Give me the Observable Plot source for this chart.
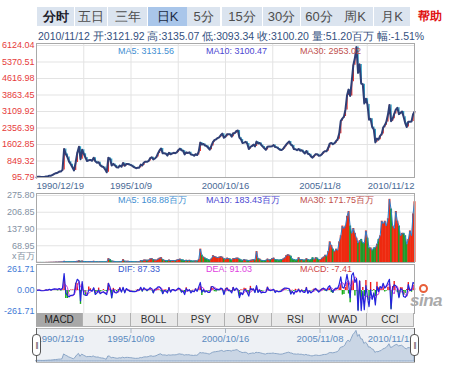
<!DOCTYPE html>
<html><head><meta charset="utf-8">
<script src="https://cdn.jsdelivr.net/npm/d3@7"></script>
<script src="https://cdn.jsdelivr.net/npm/@observablehq/plot@0.6"></script>
<style>
body{margin:0;background:#fff;}
#root{position:relative;width:450px;height:365px;overflow:hidden;font-family:"Liberation Sans",Arial,sans-serif;}
#root div,#root span{position:absolute;white-space:nowrap;}
.tab{top:7px;height:19px;line-height:19px;text-align:center;font-size:13px;color:#4d4d4d;background:#dbe4ef;}
.btab{top:313px;height:13px;line-height:13px;text-align:center;font-size:10px;color:#333;background:#e9e9e9;border-right:1px solid #b0b0b0;box-sizing:border-box;}
.lbl{font-size:9px;line-height:10px;}
</style></head><body><div id="root"></div>
<script>
// ---- data (monthly samples) ----
const closeByYear = [
 [100],
 [130,134,120,114,115,138,146,180,180,219,260,293],
 [313,365,370,443,1400,1170,1030,820,700,560,420,780],
 [1230,1500,930,1360,1180,1010,850,880,900,860,1000,834],
 [770,790,660,600,575,470,335,1000,940,645,717,648],
 [563,549,646,586,760,630,712,714,683,656,606,555],
 [520,538,545,683,646,780,816,810,850,980,1020,917],
 [965,1037,1194,1334,1420,1199,1200,1185,1097,1223,1153,1194],
 [1222,1207,1243,1343,1412,1339,1318,1150,1243,1217,1245,1147],
 [1135,1090,1158,1121,1279,1689,1601,1627,1557,1535,1453,1367],
 [1535,1715,1800,1836,1895,1928,2024,2097,1910,1961,2071,2073],
 [2066,1959,2113,2119,2214,2240,1920,1834,1668,1690,1727,1646],
 [1393,1489,1525,1596,1515,1733,1652,1673,1581,1507,1428,1358],
 [1500,1512,1510,1521,1576,1486,1477,1422,1367,1348,1397,1497],
 [1591,1675,1742,1596,1556,1399,1386,1342,1397,1321,1341,1267],
 [1192,1306,1181,1159,1061,1000,1083,1163,1156,1093,1099,1161],
 [1258,1299,1298,1440,1641,1672,1613,1659,1752,1838,2099,2675],
 [2786,2881,3184,3841,4110,3821,4471,5219,5552,6050,4872,5262],
 [4383,4349,3473,3693,3433,2736,2776,2397,2294,1700,1871,1821],
 [1991,2083,2373,2478,2633,2959,3412,2668,2779,2996,3195,3277],
 [2989,3052,3109,2871,2592,2398,2638,2639,2656,2979,3100]
];
const volumeByYear = [
 [0.3],
 [0.3,0.3,0.3,0.3,0.3,0.5,0.5,0.8,0.8,1,1.2,1.5],
 [1.5,2,2,2.5,5,3,3,3,3,3,3.5,4],
 [5,7,5,6,4,4,3,4,4,3,5,3],
 [3,3,3,3,3,3,3,16,12,6,5,4],
 [3,3,4,4,12,5,5,5,4,4,3,3],
 [3,3,3,8,7,10,10,9,10,15,16,12],
 [10,10,14,18,20,12,9,8,8,10,8,8],
 [8,8,10,12,14,11,10,8,9,8,9,7],
 [6,6,7,6,12,55,30,22,18,15,12,10],
 [15,28,25,22,20,22,24,22,15,14,18,16],
 [14,10,16,16,18,18,14,10,9,12,10,9],
 [8,9,10,12,10,45,16,14,9,8,8,9],
 [14,10,12,16,18,12,11,10,10,12,14,18],
 [28,32,30,26,14,12,10,10,20,12,12,10],
 [10,16,12,10,12,20,12,20,18,12,12,18],
 [22,30,26,45,85,70,55,45,55,50,85,110],
 [150,140,150,190,210,150,120,140,120,100,80,90],
 [95,80,80,130,100,60,60,50,60,60,75,95],
 [110,170,160,170,150,180,260,220,150,140,210,170],
 [150,110,120,120,110,75,95,130,110,200,250]
];
const difByYear = [
 [0],
 [5,5,-3,-3,0,8,5,15,5,15,20,18],
 [12,25,10,30,210,-30,-60,-80,-60,-60,-50,80],
 [140,120,-130,110,-50,-60,-60,5,5,-10,35,-50],
 [-30,5,-40,-25,-15,-35,-50,90,40,-90,15,-25],
 [-30,-10,30,-20,40,-30,25,5,-10,-10,-15,-15],
 [-10,5,5,40,-5,35,15,0,15,35,20,-30],
 [15,25,45,45,20,-40,0,-5,-30,35,-20,10],
 [10,-5,10,30,20,-20,-5,-50,25,-5,10,-30],
 [-5,-15,20,-10,45,100,-20,10,-20,-5,-25,-25],
 [45,50,25,10,15,10,30,20,-50,15,30,0],
 [-5,-30,40,0,30,10,-90,-25,-50,5,10,-25],
 [-70,30,10,20,-25,60,-25,5,-30,-20,-25,-20],
 [40,5,0,5,15,-25,-5,-15,-15,-5,15,30],
 [30,25,20,-45,-10,-45,-5,-15,15,-20,5,-20],
 [-25,35,-35,-5,-30,-10,10,25,0,-20,2,18],
 [30,12,0,40,60,10,-20,15,30,25,80,170],
 [40,30,90,200,80,-90,190,220,100,150,-250,120],
 [-250,-10,-240,60,-80,-200,10,-110,-30,-180,50,-15],
 [50,30,90,30,50,100,140,-230,30,70,60,25],
 [-90,20,15,-75,-85,-60,75,0,5,100,87]
];
const labelDateStr = ["1990-12-19","1995-10-09","2000-10-16","2005-11-08","2010-11-12"];
const mainLabels = ["1990/12/19","1995/10/9","2000/10/16","2005/11/8","2010/11/12"];
const navLabels = ["1990/12/19","1995/10/09","2000/10/16","2005/11/08","2010/11/12"];
const priceTicks = [95.79,849.32,1602.85,2356.39,3109.92,3863.45,4616.98,5370.51,6124.04];
const volTicks = [68.95,137.90,206.85,275.80];
const macdTicks = [261.71,0,-261.71];
const topTabs = ["分时","五日","三年","日K","5分","15分","30分","60分","周K","月K"];
const bottomTabs = ["MACD","KDJ","BOLL","PSY","OBV","RSI","WVAD","CCI"];
const infoItems = ["2010/11/12","开:3121.92","高:3135.07","低:3093.34","收:3100.20","量:51.20百万","幅:-1.51%"];
const priceMA = [["MA5: 3131.56","#3f8fd2"],["MA10: 3100.47","#4b47d2"],["MA30: 2953.02","#c0504d"]];
const volMA = [["MA5: 168.88百万","#3f8fd2"],["MA10: 183.43百万","#4b47d2"],["MA30: 171.75百万","#c0504d"]];
const macdLbl = [["DIF: 87.33","#3858d0"],["DEA: 91.03","#e040e0"],["MACD: -7.41","#d04545"]];

// ---- build table ----
const close = closeByYear.flat(), volume = volumeByYear.flat(), dif = difByYear.flat();
const n = close.length;
const parse = d3.utcParse("%Y-%m-%d");
const dates = d3.range(n).map(i => new Date(Date.UTC(1990, 11 + i, 15)));
dates[0] = parse("1990-12-19"); dates[n-1] = parse("2010-11-12");
const rows = dates.map((date, i) => {
  const dea = d3.mean(dif.slice(Math.max(0, i - 2), i + 1));
  const open = i ? close[i-1] : close[i];
  return {date, close: close[i], open, up: close[i] >= open, vol: volume[i], dif: dif[i], dea, hist: dif[i] - dea};
});
const lblDates = labelDateStr.map(parse);
const labels = lblDates.map((date, i) => ({date, main: mainLabels[i], nav: navLabels[i], i}));
const xRange = d3.range(5).map(k => 36 + k * 94.5);
const gridPos = d3.scaleUtc().domain(lblDates).range([0,2,4,6,8]);
const gridDates = d3.range(9).map(k => gridPos.invert(k));

const root = document.getElementById("root");
const FONT = "'Liberation Sans',Arial,sans-serif";
function panel(top, height, mt, mb, y, marks) {
  const svg = Plot.plot({
    width: 450, height, marginLeft: 36, marginRight: 36, marginTop: mt, marginBottom: mb,
    x: {type: "utc", domain: lblDates, range: xRange, axis: null},
    y: {...y, axis: null},
    style: `position:absolute;left:0;top:${top}px;overflow:visible;background:transparent;font-family:${FONT};`,
    marks
  });
  root.appendChild(svg);
}
const grid = "#e3e3e3";
function dateText(field, opts) {
  return [
    Plot.text(labels, {filter: d => d.i === 0, x: "date", text: field, textAnchor: "start", ...opts}),
    Plot.text(labels, {filter: d => d.i > 0 && d.i < 4, x: "date", text: field, textAnchor: "middle", ...opts}),
    Plot.text(labels, {filter: d => d.i === 4, x: "date", text: field, textAnchor: "end", ...opts})
  ];
}

// main price panel
panel(40, 150, 3, 13, {domain: [95.79, 6124.04], range: [137, 5]}, [
  Plot.ruleY(priceTicks, {stroke: grid}),
  Plot.ruleX(gridDates, {stroke: grid}),
  Plot.ruleX(rows, {x: "date", y1: "open", y2: "close", stroke: d => d.up ? "#e8302a" : "#2fa6c8", strokeWidth: 1.3}),
  Plot.line(rows, {x: "date", y: "close", stroke: "#2e3f76", strokeWidth: 2}),
  Plot.frame({stroke: "#a9a9a9"}),
  Plot.text(priceTicks, {y: d => d, frameAnchor: "left", dx: -2, textAnchor: "end", text: d => d.toFixed(2), fill: "#e63b3b", fontSize: 9}),
  ...dateText("main", {frameAnchor: "bottom", dy: 8, lineAnchor: "middle", fill: "#4a6a96", fontSize: 9.5})
]);

// volume panel
panel(192, 71, 1, 1, {domain: [0, 275.8], range: [70, 3]}, [
  Plot.ruleY(volTicks, {stroke: grid}),
  Plot.ruleX(gridDates, {stroke: grid}),
  Plot.ruleX(rows, {x: "date", y: "vol", stroke: d => d.up ? "#ee2a10" : "#1f9a2a", strokeWidth: 2}),
  Plot.line(rows, {x: "date", y: "vol", stroke: "#2a7fcf", strokeWidth: 1}),
  Plot.frame({stroke: "#a9a9a9"}),
  Plot.text(volTicks, {y: d => d, frameAnchor: "left", dx: -2, textAnchor: "end", text: d => d.toFixed(2), fill: "#8391a3", fontSize: 9}),
  Plot.text(["x百万"], {frameAnchor: "bottom-left", dx: -2, dy: -4, textAnchor: "end", text: d => d, fill: "#8391a3", fontSize: 9})
]);

// MACD panel
panel(263, 51, 1, 1, {domain: [-261.71, 261.71], range: [48, 6]}, [
  Plot.ruleY([0], {stroke: grid}),
  Plot.ruleX(gridDates, {stroke: grid}),
  Plot.ruleX(rows, {x: "date", y: "hist", stroke: d => d.hist >= 0 ? "#ee1c1c" : "#16b016", strokeWidth: 1.4}),
  Plot.line(rows, {x: "date", y: "dea", stroke: "#d23fd2", strokeWidth: 1}),
  Plot.line(rows, {x: "date", y: "dif", stroke: "#2424dc", strokeWidth: 1.2}),
  Plot.frame({stroke: "#a9a9a9"}),
  Plot.text(macdTicks, {y: d => d, frameAnchor: "left", dx: -2, textAnchor: "end", text: d => d.toFixed(2), fill: "#3f7ad6", fontSize: 9})
]);

// navigator
panel(327, 36, 1, 1, {domain: [0, 6124.04], range: [34, 3]}, [
  Plot.frame({fill: "#eef1f5", stroke: "#b9b9b9"}),
  Plot.areaY(rows, {x: "date", y: "close", fill: "#cad6e5", stroke: "#8ba6c7", strokeWidth: 1}),
  Plot.ruleX(lblDates.slice(1, 4), {stroke: "#aab4c0", insetBottom: 29}),
  ...dateText("nav", {frameAnchor: "top", dy: 10, lineAnchor: "middle", fill: "#5a8abf", fontSize: 9.5})
]);

// ---- HTML chrome ----
function el(cls, text, css) {
  const d = document.createElement("div");
  if (cls) d.className = cls;
  d.textContent = text;
  d.style.cssText += css;
  root.appendChild(d);
  return d;
}
const tabX = [37,75,108,148,187,222,263,301,337,374];
const tabW = [37,32,39,39,33,40,37,36,36,36];
topTabs.forEach((t, i) => {
  el("tab", t, `left:${tabX[i]}px;width:${tabW[i]}px;` +
    (i === 0 ? "font-weight:bold;color:#1b1b2b;" : "") +
    (t === "日K" ? "background:#a9c6ea;color:#1b2b45;" : ""));
});
el("", "帮助", "left:418px;top:7px;height:19px;line-height:19px;font-size:12px;font-weight:bold;color:#e01010;");
const info = el("", "", "left:38px;top:30px;font-size:10.5px;line-height:13px;color:#33507e;");
info.textContent = infoItems.join(" ");
[[priceMA, 46], [volMA, 195], [macdLbl, 264]].forEach(([items, top]) => {
  items.forEach(([t, c], i) => el("lbl", t, `left:${[118,206,300][i]}px;top:${top}px;color:${c};`));
});
bottomTabs.forEach((t, i) => {
  el("btab", t, `left:${36 + i * 47.25}px;width:47.25px;` + (i === 0 ? "background:#a8a8a8;color:#222;" : ""));
});
el("", "", "left:36px;top:326px;width:378px;height:0;border-top:1px solid #b0b0b0;");
// navigator handles
[36, 414].forEach(x => {
  el("", "", `left:${x}px;top:328px;width:1px;height:34px;background:#666;`);
  el("", "||", `left:${x-4}px;top:334px;width:7px;height:20px;border:1px solid #555;border-radius:4px;background:#fff;font-size:8px;line-height:20px;text-align:center;color:#444;letter-spacing:-1px;`);
});
// sina logo
el("", "sina", "left:410px;top:291px;font-size:17px;font-style:italic;font-weight:bold;color:#aaaaaa;letter-spacing:-0.5px;");
el("", "", "left:419px;top:284px;width:5px;height:5px;border:2px solid #e8603a;border-radius:50%;");
</script></body></html>
